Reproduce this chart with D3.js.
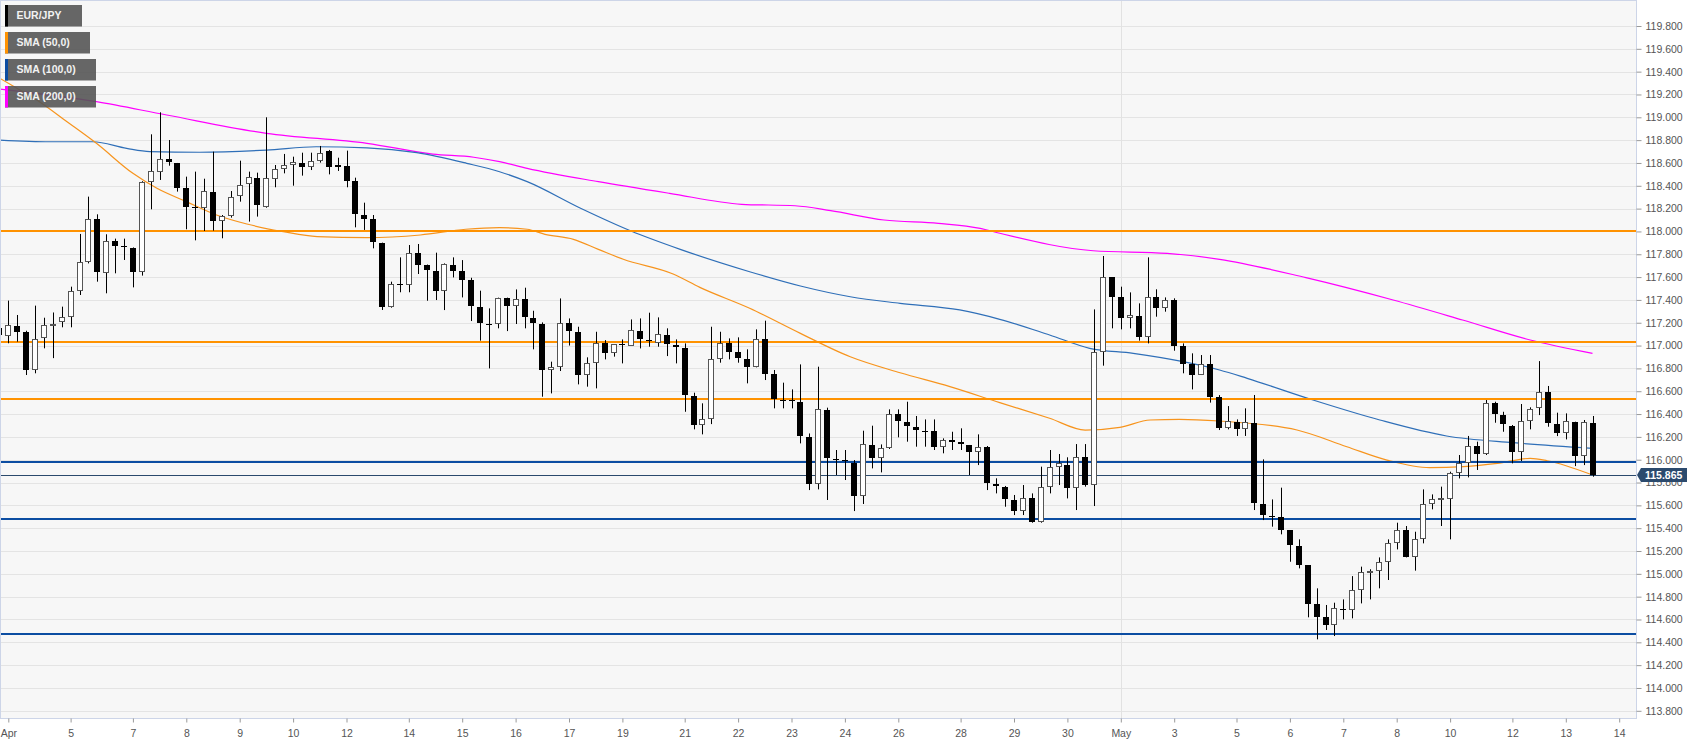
<!DOCTYPE html>
<html>
<head>
<meta charset="utf-8">
<script src="https://cdn.jsdelivr.net/npm/d3@7"></script>
<style>
  body { margin: 0; background: #fff; }
  svg { display: block; font-family: Arial, "Liberation Sans", sans-serif; }
</style>
</head>
<body>
<div id="chart"></div>
<script>
// -------------------- DATA --------------------
// EUR/JPY 4h candles, index 0..179
const opens = [117.151,117.087,117.174,117.122,116.786,117.064,117.180,117.204,117.253,117.478,
117.729,118.106,117.639,117.913,117.870,117.852,117.642,118.436,118.518,118.635,
118.600,118.384,118.214,118.206,118.349,118.092,118.138,118.308,118.413,118.471,
118.217,118.462,118.544,118.582,118.597,118.568,118.617,118.702,118.579,118.573,
118.442,118.147,118.106,117.902,117.341,117.540,117.531,117.808,117.703,117.653,
117.478,117.706,117.653,117.571,117.340,117.189,117.186,117.413,117.346,117.405,
117.238,117.189,116.785,116.815,117.200,117.121,116.742,116.844,117.019,116.932,
117.010,117.000,117.127,117.048,117.019,117.095,117.005,116.975,116.560,116.304,
116.353,116.882,117.025,116.943,116.882,116.815,117.054,116.747,116.523,116.523,
116.508,116.201,115.784,116.435,116.006,115.997,115.974,115.682,116.132,116.012,
116.105,116.397,116.333,116.289,116.254,116.251,116.114,116.172,116.158,116.129,
116.064,116.114,115.787,115.764,115.647,115.553,115.661,115.457,115.764,115.939,
115.953,115.749,116.021,115.778,116.946,117.598,117.422,117.244,117.262,117.078,
117.428,117.326,117.399,116.996,116.838,116.742,116.838,116.546,116.275,116.333,
116.266,116.324,115.612,115.509,115.500,115.384,115.247,115.077,114.735,114.624,
114.551,114.694,114.683,114.858,115.019,115.028,115.106,115.267,115.384,115.144,
115.308,115.612,115.652,115.652,115.880,115.974,116.120,116.050,116.499,116.391,
116.298,116.070,116.342,116.450,116.596,116.309,116.237,116.333,116.032,116.324];

const highs = [117.283,117.394,117.268,117.130,117.350,117.244,117.290,117.341,117.516,117.978,
118.305,118.150,117.975,117.937,117.937,117.860,118.440,118.851,119.044,118.801,
118.600,118.480,118.524,118.462,118.699,118.144,118.354,118.620,118.524,118.515,
119.000,118.582,118.679,118.655,118.690,118.690,118.749,118.714,118.646,118.708,
118.471,118.252,118.144,117.902,117.560,117.773,117.881,117.890,117.710,117.814,
117.720,117.773,117.749,117.594,117.481,117.326,117.420,117.420,117.492,117.507,
117.305,117.203,116.859,117.413,117.238,117.165,116.897,117.121,117.048,117.010,
117.054,117.229,117.238,117.288,117.247,117.151,117.054,117.019,116.587,116.494,
117.165,117.121,117.063,117.072,116.967,117.142,117.218,116.786,116.675,116.616,
116.835,116.230,116.815,116.456,116.085,116.085,115.997,116.254,116.298,116.134,
116.441,116.441,116.508,116.383,116.353,116.353,116.187,116.245,116.275,116.129,
116.222,116.120,115.837,115.770,115.691,115.778,115.705,115.939,116.085,116.050,
116.021,116.137,116.137,117.317,117.785,117.600,117.516,117.466,117.370,117.773,
117.493,117.422,117.414,117.019,116.932,116.917,116.917,116.566,116.470,116.353,
116.450,116.567,116.003,115.652,115.755,115.384,115.302,115.077,114.873,114.727,
114.747,114.776,114.980,115.063,115.040,115.144,115.302,115.448,115.419,115.369,
115.740,115.696,115.764,115.895,116.041,116.208,116.158,116.523,116.508,116.420,
116.304,116.488,116.459,116.864,116.646,116.412,116.406,116.333,116.348,116.383];

const lows = [116.757,117.020,117.034,116.742,116.757,116.976,116.890,117.160,117.160,117.443,
117.720,117.560,117.458,117.633,117.750,117.510,117.613,118.194,118.451,118.576,
118.349,118.019,117.922,118.004,118.007,117.940,118.121,118.261,118.086,118.130,
118.208,118.387,118.509,118.401,118.489,118.538,118.603,118.500,118.530,118.387,
118.036,118.013,117.852,117.312,117.332,117.467,117.467,117.627,117.393,117.399,
117.311,117.597,117.422,117.215,117.043,116.800,117.151,117.127,117.189,117.151,
116.967,116.552,116.581,116.777,117.000,116.660,116.640,116.625,116.879,116.903,
116.844,117.000,116.975,116.990,116.990,116.908,116.844,116.420,116.266,116.222,
116.312,116.850,116.879,116.850,116.669,116.809,116.698,116.450,116.450,116.450,
116.143,115.734,115.740,115.647,115.866,115.822,115.550,115.612,115.924,115.889,
116.094,116.196,116.158,116.114,116.114,116.085,116.056,116.085,116.085,115.866,
115.953,115.734,115.705,115.588,115.515,115.515,115.448,115.448,115.705,115.778,
115.661,115.559,115.764,115.594,116.824,117.151,117.142,117.151,117.043,117.019,
117.253,117.297,116.955,116.757,116.616,116.742,116.500,116.260,116.266,116.208,
116.208,115.559,115.471,115.413,115.346,115.106,115.048,114.619,114.426,114.508,
114.455,114.601,114.610,114.741,114.776,114.873,114.946,115.214,115.144,115.028,
115.267,115.565,115.419,115.302,115.836,115.845,115.910,116.041,116.324,116.245,
115.968,115.988,116.266,116.391,116.289,116.207,116.178,115.944,115.953,115.851];

const closes = [117.093,117.180,117.122,116.786,117.058,117.180,117.190,117.253,117.481,117.735,
118.109,117.648,117.913,117.875,117.865,117.648,118.436,118.527,118.635,118.606,
118.384,118.217,118.208,118.357,118.092,118.138,118.305,118.410,118.474,118.229,
118.465,118.544,118.579,118.606,118.568,118.617,118.690,118.568,118.568,118.445,
118.153,118.109,117.910,117.341,117.540,117.531,117.814,117.706,117.662,117.481,
117.711,117.656,117.574,117.346,117.194,117.183,117.419,117.349,117.405,117.247,
117.194,116.785,116.815,117.200,117.127,116.742,116.844,117.019,116.937,117.010,
117.005,117.133,117.054,117.043,117.101,117.010,116.984,116.566,116.304,116.356,
116.882,117.025,116.946,116.888,116.815,117.054,116.750,116.528,116.514,116.514,
116.207,115.784,116.441,116.012,115.997,115.988,115.682,116.137,116.018,116.105,
116.397,116.339,116.295,116.260,116.245,116.114,116.172,116.158,116.134,116.064,
116.114,115.793,115.769,115.653,115.553,115.667,115.457,115.764,115.939,115.968,
115.749,116.021,115.778,116.946,117.598,117.428,117.244,117.268,117.078,117.428,
117.332,117.399,116.996,116.838,116.742,116.838,116.552,116.275,116.342,116.266,
116.333,115.617,115.515,115.500,115.384,115.252,115.077,114.735,114.624,114.551,
114.697,114.689,114.858,115.019,115.028,115.106,115.267,115.384,115.144,115.308,
115.612,115.653,115.661,115.886,115.974,116.120,116.050,116.499,116.397,116.313,
116.070,116.342,116.444,116.596,116.318,116.237,116.342,116.032,116.327,115.865];

// moving averages: [candle index, value]
const sma50 = [[0,119.344],[2.3,119.239],[4.2,119.152],[7.6,118.961],[10.9,118.772],[15,118.509],
  [17.7,118.378],[21,118.261],[24.4,118.144],[27.8,118.065],[31.9,117.998],[35.7,117.954],
  [41.3,117.945],[47.3,117.969],[52.4,118.019],[56.2,118.033],[59.3,118.019],[61.3,117.975],
  [64.5,117.931],[67.3,117.843],[70.1,117.756],[75.7,117.627],[78.7,117.51],[84.3,117.327],
  [90,117.107],[95.6,116.902],[101.2,116.762],[106.8,116.64],[112.4,116.5],[118,116.363],
  [122,116.26],[125.9,116.284],[129.3,116.348],[132.6,116.354],[137.1,116.339],[145.8,116.26],
  [151.4,116.114],[155.9,115.997],[160.7,115.93],[164.5,115.939],[168.3,115.968],[172,116.012],
  [173.9,115.991],[179,115.866]];

const sma100 = [[0,118.801],[5.7,118.786],[10.5,118.786],[14.3,118.728],[16.9,118.7],[22.5,118.694],
  [30,118.713],[35.6,118.742],[41.3,118.733],[46.9,118.69],[52.5,118.597],[56.2,118.523],
  [59.3,118.436],[65.3,118.203],[70.9,118.006],[76.5,117.843],[84.3,117.647],[90,117.522],
  [95.6,117.428],[101.2,117.37],[107.9,117.312],[112.4,117.23],[118,117.093],[122.5,116.976],
  [127.4,116.932],[133,116.859],[137.1,116.786],[140.2,116.713],[147.6,116.523],[155.1,116.348],
  [162.6,116.208],[170.1,116.149],[179,116.1]];

const sma200 = [[0,119.248],[10.9,119.137],[18.8,119.02],[30,118.86],[41.3,118.772],[48.7,118.678],
  [53.3,118.65],[56.2,118.611],[59.3,118.553],[67.3,118.436],[75.3,118.334],[83.4,118.238],
  [89.4,118.225],[93.4,118.182],[99.4,118.1],[105.5,118.071],[110.2,118.027],[112.4,117.984],
  [122.9,117.831],[131.2,117.808],[137.1,117.756],[146.8,117.595],[156.6,117.399],[164.4,117.224],
  [172,117.049],[179,116.932]];

const resistances = [118.00, 117.03, 116.53];
const supports = [115.98, 115.48, 114.47];
const lastPrice = 115.865;

const xTickIdx = [1, 8, 15, 21, 27, 33, 39, 46, 52, 58, 64, 70, 77, 83, 89, 95, 101, 108, 114, 120,
  126, 132, 139, 145, 151, 157, 163, 170, 176, 182];
const xTickLabels = ["Apr","5","7","8","9","10","12","14","15","16","17","19","21","22","23","24",
  "26","28","29","30","May","3","5","6","7","8","10","12","13","14"];

const yTicks = [113.8,114.0,114.2,114.4,114.6,114.8,115.0,115.2,115.4,115.6,115.8,116.0,116.2,116.4,
  116.6,116.8,117.0,117.2,117.4,117.6,117.8,118.0,118.2,118.4,118.6,118.8,119.0,119.2,119.4,119.6,119.8];

const legend = [
  { name: "EUR/JPY", color: "#000000", w: 77 },
  { name: "SMA (50,0)", color: "#ff9200", w: 85 },
  { name: "SMA (100,0)", color: "#0c4da2", w: 91 },
  { name: "SMA (200,0)", color: "#ff00ff", w: 91 }
];

// -------------------- LAYOUT --------------------
const W = 1707, H = 744;
const plotW = 1636, plotH = 718;

const x = d3.scaleLinear().domain([0, 179]).range([-0.6, 1592.5]);
const y = d3.scaleLinear().domain([113.8, 119.8]).range([710.8, 26]);

const svg = d3.select("#chart").append("svg")
  .attr("width", W)
  .attr("height", H);

svg.append("defs").append("clipPath").attr("id", "plotclip")
  .append("rect").attr("x", 0).attr("y", 0).attr("width", plotW).attr("height", plotH);

svg.append("rect")
  .attr("x", 0).attr("y", 0)
  .attr("width", plotW).attr("height", plotH)
  .attr("fill", "#f7f7f7");

// grid
svg.append("g").selectAll("line")
  .data(yTicks)
  .join("line")
  .attr("x1", 0).attr("x2", plotW)
  .attr("y1", d => Math.round(y(d)) + 0.5)
  .attr("y2", d => Math.round(y(d)) + 0.5)
  .attr("stroke", "#e4e4e4");

// month separator
svg.append("line")
  .attr("x1", Math.round(x(126)) + 0.5).attr("x2", Math.round(x(126)) + 0.5)
  .attr("y1", 0).attr("y2", plotH)
  .attr("stroke", "#e2e2e2");

const plotG = svg.append("g").attr("clip-path", "url(#plotclip)");

// moving averages
const line = d3.line()
  .x(d => x(d[0]))
  .y(d => y(d[1]))
  .curve(d3.curveMonotoneX);

[[sma200, "#ff00ff"], [sma100, "#2f6fb8"], [sma50, "#f7941d"]].forEach(([data, col]) => {
  plotG.append("path")
    .datum(data)
    .attr("fill", "none")
    .attr("stroke", col)
    .attr("stroke-width", 1.2)
    .attr("d", line);
});

// levels
resistances.forEach(v => {
  plotG.append("line")
    .attr("x1", 0).attr("x2", plotW)
    .attr("y1", Math.round(y(v))).attr("y2", Math.round(y(v)))
    .attr("stroke", "#ff9200").attr("stroke-width", 2);
});
supports.forEach(v => {
  plotG.append("line")
    .attr("x1", 0).attr("x2", plotW)
    .attr("y1", Math.round(y(v))).attr("y2", Math.round(y(v)))
    .attr("stroke", "#0c4da2").attr("stroke-width", 2);
});

// last price line
plotG.append("line")
  .attr("x1", 0).attr("x2", plotW)
  .attr("y1", Math.round(y(lastPrice)) + 0.5).attr("y2", Math.round(y(lastPrice)) + 0.5)
  .attr("stroke", "#2b4a6d").attr("stroke-width", 1);

// candles
const idx = d3.range(opens.length);
const cg = plotG.append("g");

cg.selectAll("line.wick")
  .data(idx)
  .join("line")
  .attr("class", "wick")
  .attr("x1", i => Math.round(x(i)) + 0.5)
  .attr("x2", i => Math.round(x(i)) + 0.5)
  .attr("y1", i => y(highs[i]))
  .attr("y2", i => y(lows[i]))
  .attr("stroke", "#000")
  .attr("stroke-width", 1);

cg.selectAll("rect.body")
  .data(idx)
  .join("rect")
  .attr("class", "body")
  .each(function(i) {
    const up = closes[i] > opens[i];
    const top = Math.round(y(Math.max(opens[i], closes[i])));
    const bot = Math.max(top + 1, Math.round(y(Math.min(opens[i], closes[i]))));
    const cx = Math.round(x(i));
    const r = d3.select(this);
    if (up) {
      r.attr("x", cx - 2.5).attr("width", 5)
        .attr("y", top + 0.5).attr("height", Math.max(1, bot - top - 1))
        .attr("fill", "#ffffff").attr("stroke", "#555").attr("stroke-width", 1);
    } else {
      r.attr("x", cx - 3).attr("width", 6)
        .attr("y", top).attr("height", bot - top)
        .attr("fill", "#000");
    }
  });

// border
svg.append("rect")
  .attr("x", 0.5).attr("y", 0.5)
  .attr("width", plotW).attr("height", plotH)
  .attr("fill", "none")
  .attr("stroke", "#cdd5e8");

// axes
const yAxis = svg.append("g")
  .attr("transform", `translate(${plotW + 0.5},0)`)
  .call(d3.axisRight(y).tickValues(yTicks).tickFormat(d3.format(".3f")).tickSize(5).tickPadding(4));
yAxis.select(".domain").remove();
yAxis.selectAll(".tick line").attr("stroke", "#999");
yAxis.selectAll("text").attr("fill", "#555").attr("font-size", "10.5px")
  .attr("font-family", "Arial, 'Liberation Sans', sans-serif");

const xAxis = svg.append("g")
  .attr("transform", `translate(0,${plotH + 0.5})`)
  .call(d3.axisBottom(x).tickValues(xTickIdx).tickFormat((d, i) => xTickLabels[i]).tickSize(4).tickPadding(7));
xAxis.select(".domain").remove();
xAxis.selectAll(".tick line").attr("stroke", "#999");
xAxis.selectAll("text").attr("fill", "#555").attr("font-size", "10.5px")
  .attr("font-family", "Arial, 'Liberation Sans', sans-serif");

// last price label
const py = y(lastPrice);
svg.append("path")
  .attr("d", `M${plotW + 1},${py} L${plotW + 5},${py - 7} L${plotW + 51},${py - 7} L${plotW + 51},${py + 7} L${plotW + 5},${py + 7} Z`)
  .attr("fill", "#2b4a6d");
svg.append("text")
  .attr("x", plotW + 9)
  .attr("y", py)
  .attr("dy", "0.35em")
  .attr("fill", "#fff")
  .attr("font-size", "10.5px")
  .attr("font-weight", "bold")
  .text(d3.format(".3f")(lastPrice));

// legend
const lg = svg.append("g");
legend.forEach((d, i) => {
  const ty = 5 + i * 27;
  lg.append("rect")
    .attr("x", 5).attr("y", ty)
    .attr("width", d.w).attr("height", 21.5)
    .attr("fill", "#555").attr("fill-opacity", 0.9);
  lg.append("rect")
    .attr("x", 5).attr("y", ty)
    .attr("width", 3).attr("height", 21.5)
    .attr("fill", d.color);
  lg.append("text")
    .attr("x", 16.5).attr("y", ty + 10.75)
    .attr("dy", "0.35em")
    .attr("fill", "#f2f2f2")
    .attr("font-size", "10.5px")
    .attr("font-weight", "bold")
    .text(d.name);
});
</script>
</body>
</html>
